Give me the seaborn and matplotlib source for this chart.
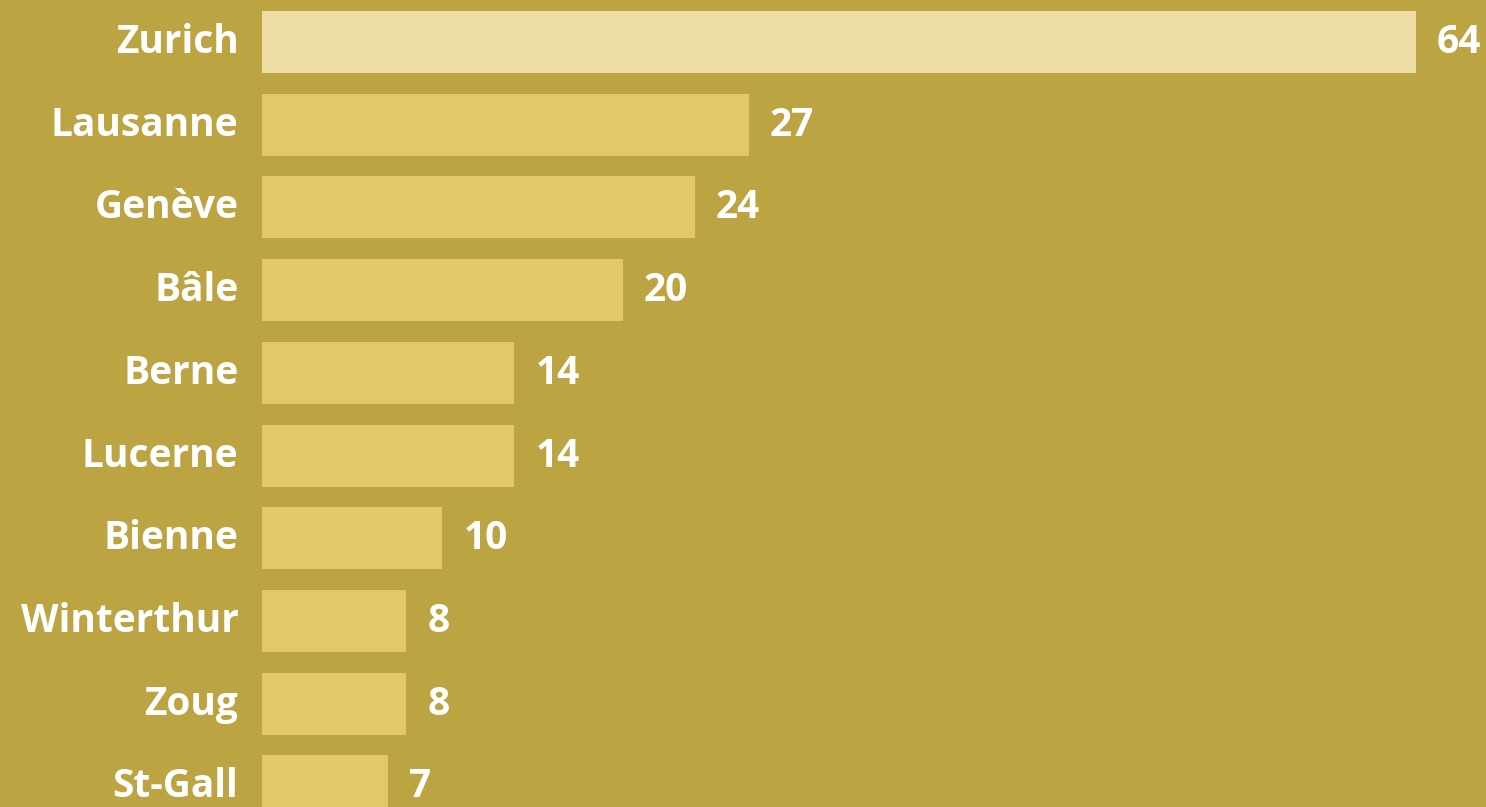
import matplotlib
matplotlib.use("Agg")
import matplotlib.pyplot as plt
import matplotlib.transforms as mtransforms
import seaborn as sns
import pandas as pd

cities = ["Zurich", "Lausanne", "Genève", "Bâle", "Berne", "Lucerne",
          "Bienne", "Winterthur", "Zoug", "St-Gall"]
values = [64, 27, 24, 20, 14, 14, 10, 8, 8, 7]

BG = "#BDA443"
BAR = "#E3C76A"
HIGHLIGHT = "#EFDDA6"

sns.set_theme(style="white")
plt.rcParams['font.family'] = ['Open Sans', 'DejaVu Sans']

df = pd.DataFrame({"city": cities, "value": values})
palette = {c: (HIGHLIGHT if i == 0 else BAR) for i, c in enumerate(cities)}

fig = plt.figure(figsize=(14.86, 8.07), dpi=100)
fig.patch.set_facecolor(BG)
ax = fig.add_axes([262 / 1486, 0, 1 - 262 / 1486, 1])
ax.set_facecolor(BG)

sns.barplot(data=df, x="value", y="city", hue="city", palette=palette,
            order=cities, width=0.75, saturation=1, legend=False,
            linewidth=0, ax=ax)

ax.set_xlim(0, 67.88)
ax.set_ylim(9.25, -0.508)
for s in ax.spines.values():
    s.set_visible(False)
ax.set_xticks([])
ax.set_xlabel("")
ax.set_ylabel("")
ax.tick_params(axis="y", length=0, pad=17)
shift = mtransforms.ScaledTranslation(0, -11 / 100, fig.dpi_scale_trans)
for lab in ax.get_yticklabels():
    lab.set_color("white")
    lab.set_fontweight("bold")
    lab.set_fontsize(28)
    lab.set_va("baseline")
    lab.set_transform(lab.get_transform() + shift)

for i, v in enumerate(values):
    ax.annotate(str(v), xy=(v, i), xytext=(21, -11), textcoords="offset pixels",
                va="baseline", ha="left", color="white", fontweight="bold", fontsize=28)

fig.savefig("out.png", dpi=100, facecolor=BG)
